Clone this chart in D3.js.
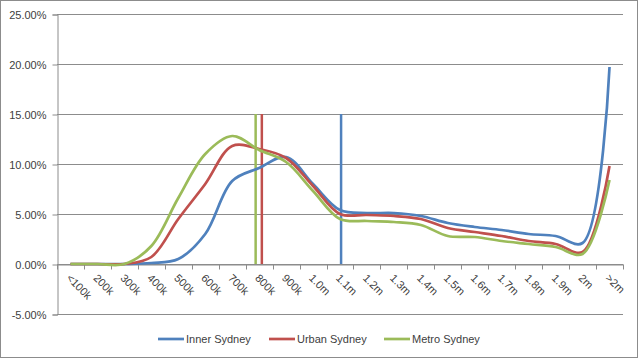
<!DOCTYPE html>
<html><head><meta charset="utf-8">
<script src="https://cdn.jsdelivr.net/npm/d3@7"></script>
<style>body{margin:0;background:#fff}svg{display:block}</style>
</head><body><svg id="c" width="640" height="361"></svg>
<script>
const categories = ["<100k","200k","300k","400k","500k","600k","700k","800k","900k","1.0m","1.1m","1.2m","1.3m","1.4m","1.5m","1.6m","1.7m","1.8m","1.9m","2m",">2m"];
const seriesNames = ["Inner Sydney","Urban Sydney","Metro Sydney"];
const inner = [0,0,0,0.1,0.5,3.0,8.3,9.6,10.7,8.0,5.4,5.1,5.1,4.8,4.1,3.7,3.4,3.0,2.8,2.1,19.7];
const urban = [0,0,0,0.7,4.5,8.0,11.8,11.5,10.6,7.8,5.0,4.9,4.8,4.5,3.6,3.2,2.8,2.3,2.0,1.2,9.8];
const metro = [0,0,0,1.8,6.6,11.0,12.8,11.4,10.2,7.3,4.5,4.3,4.2,3.9,2.8,2.7,2.3,2.0,1.7,1.0,8.4];
// medians, expressed in $k (category position = k/100 - 1)
const mediansK = [1104, 810, 787];
const medianTop = 15;
const yTicks = [-5,0,5,10,15,20,25];
const colors = ["#4F81BD","#C0504D","#9BBB59"];

const svg = d3.select("#c");
const L=57, R=623, T=14, B=314;
svg.append("rect").attr("x",0.5).attr("y",0.5).attr("width",637).attr("height",357)
  .attr("fill","#fff").attr("stroke","#8c8c8c");

const x = d3.scaleBand().domain(categories).range([L,R]).padding(0);
const xc = d => x(d)+x.bandwidth()/2;
const xPos = d3.scaleLinear().domain([0,categories.length-1]).range([xc(categories[0]), xc(categories[categories.length-1])]);
const y = d3.scaleLinear().domain([-5,25]).range([B,T]);

// gridlines
svg.append("g").selectAll("line").data(yTicks).join("line")
  .attr("x1",L).attr("x2",R).attr("y1",d=>Math.round(y(d))+0.5).attr("y2",d=>Math.round(y(d))+0.5)
  .attr("stroke","#8c8c8c").attr("stroke-width",1);

// y axis
const yAxis = d3.axisLeft(y).tickValues(yTicks).tickSize(5).tickPadding(6).tickFormat(d=>d.toFixed(2)+"%");
const ga = svg.append("g").attr("transform",`translate(${L+0.5},0.5)`).call(yAxis);
ga.select(".domain").attr("stroke","#8c8c8c");
ga.selectAll(".tick line").attr("stroke","#8c8c8c");
ga.selectAll("text").attr("font-family","Liberation Sans, Arial, sans-serif").attr("font-size",11).attr("fill","#404040");

// x axis at zero
const xAxis = d3.axisBottom(x).tickSize(0).tickFormat("");
const gx = svg.append("g").attr("transform",`translate(0,${Math.round(y(0))+0.5})`).call(xAxis);
gx.select(".domain").attr("stroke","#8c8c8c");
const bounds = d3.range(categories.length+1).map(i=>L + i*x.bandwidth());
gx.selectAll(".btick").data(bounds).join("line").attr("class","btick")
  .attr("x1",d=>Math.round(d)+0.5).attr("x2",d=>Math.round(d)+0.5).attr("y1",0).attr("y2",5)
  .attr("stroke","#8c8c8c");
svg.append("g").selectAll("text").data(categories).join("text")
  .attr("transform",d=>`translate(${xc(d)-2},${y(0)+12}) rotate(45)`)
  .attr("font-family","Liberation Sans, Arial, sans-serif").attr("font-size",11).attr("fill","#404040")
  .attr("text-anchor","start").attr("dy","0.35em").text(d=>d);

// median markers
svg.append("g").selectAll("line").data(mediansK).join("line")
  .attr("x1",d=>xPos(d/100-1)).attr("x2",d=>xPos(d/100-1))
  .attr("y1",y(0)).attr("y2",y(medianTop))
  .attr("stroke",(d,i)=>colors[i]).attr("stroke-width",2.5);

// series lines
const line = d3.line().x((d,i)=>xPos(i)).y(d=>y(d)).curve(d3.curveCatmullRom.alpha(0.5));
[inner,urban,metro].forEach((s,i)=>{
  svg.append("path").datum(s).attr("d",line).attr("fill","none")
    .attr("stroke",colors[i]).attr("stroke-width",2.7).attr("stroke-linejoin","round");
});

// legend
const legX = [158,269,384];
const lg = svg.append("g");
seriesNames.forEach((n,i)=>{
  lg.append("line").attr("x1",legX[i]).attr("x2",legX[i]+26).attr("y1",339).attr("y2",339)
    .attr("stroke",colors[i]).attr("stroke-width",2.7);
  lg.append("text").attr("x",legX[i]+28).attr("y",339).attr("dy","0.35em")
    .attr("font-family","Liberation Sans, Arial, sans-serif").attr("font-size",11).attr("fill","#404040").text(n);
});
</script></body></html>
